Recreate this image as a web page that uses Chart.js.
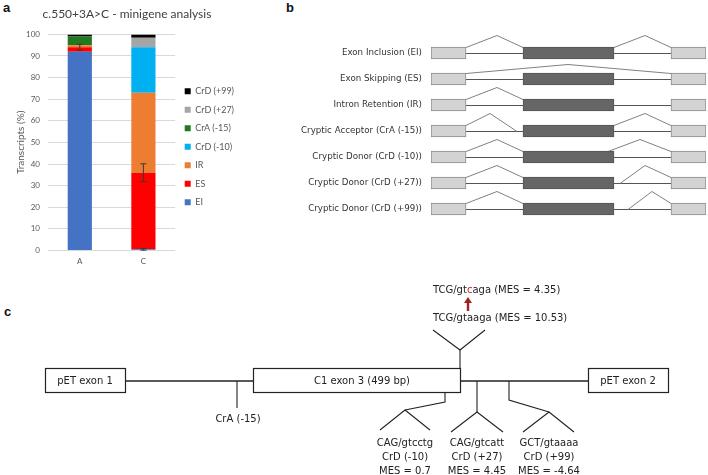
<!DOCTYPE html>
<html lang="en">
<head>
<meta charset="UTF-8">
<title>c.550+3A>C minigene analysis</title>
<script src="https://cdn.jsdelivr.net/npm/chart.js"></script>
<style>
    body {
        margin: 0;
        background: #ffffff;
        width: 708px;
        height: 475px;
        overflow: hidden;
        position: relative;
        font-family: 'DejaVu Sans', sans-serif;
    }
    .panel { position: absolute; }
    .tag {
        position: absolute;
        font-family: 'Liberation Sans', Arial, sans-serif;
        font-weight: bold;
        font-size: 13px;
        color: #111;
    }
    #diagram { position: absolute; left: 0; top: 0; }
</style>
</head>
<body>
    <div class="tag" style="left:3px; top:0px;">a</div>
    <div class="tag" style="left:286px; top:0px;">b</div>
    <div class="tag" style="left:4px; top:304px;">c</div>

    <canvas id="barChart" class="panel" style="left:0; top:0;" width="250" height="275"></canvas>
    <canvas id="isoChart" class="panel" style="left:261px; top:0;" width="447" height="240"></canvas>

    <svg id="diagram" width="708" height="475" font-family="'DejaVu Sans', sans-serif" font-size="10" fill="#222">
        <!-- exons of the minigene -->
        <g stroke="#222" stroke-width="1.2" fill="#fff">
            <rect x="45.5" y="368.5" width="80" height="24"/>
            <rect x="253.5" y="368.5" width="207" height="24"/>
            <rect x="588.5" y="368.5" width="80" height="24"/>
        </g>
        <g stroke="#222" stroke-width="1.6" fill="none">
            <line x1="126" y1="381" x2="253" y2="381"/>
            <line x1="461" y1="381" x2="588" y2="381"/>
        </g>
        <g stroke="#222" stroke-width="1.1" fill="none">
            <!-- CrA (-15) -->
            <line x1="237" y1="381" x2="237" y2="408"/>
            <!-- natural donor -->
            <polyline points="460,368 460,350"/>
            <polyline points="433,330 460,350 485,330"/>
            <!-- CrD (-10) -->
            <polyline points="445,393 445,402 405,410"/>
            <polyline points="380,430 405,410 430,430"/>
            <!-- CrD (+27) -->
            <polyline points="477,381 477,412"/>
            <polyline points="451,432 477,412 503,432"/>
            <!-- CrD (+99) -->
            <polyline points="509,381 509,400 549,412"/>
            <polyline points="523,432 549,412 574,432"/>
        </g>
        <g text-anchor="middle" dominant-baseline="middle">
            <text x="85" y="381">pET exon 1</text>
            <text x="362" y="381">C1 exon 3 (499 bp)</text>
            <text x="628" y="381">pET exon 2</text>
            <text x="238" y="419">CrA (-15)</text>
            <text x="405" y="443">CAG/gtcctg</text>
            <text x="405" y="457">CrD (-10)</text>
            <text x="405" y="471">MES = 0.7</text>
            <text x="477" y="443">CAG/gtcatt</text>
            <text x="477" y="457">CrD (+27)</text>
            <text x="477" y="471">MES = 4.45</text>
            <text x="549" y="443">GCT/gtaaaa</text>
            <text x="549" y="457">CrD (+99)</text>
            <text x="549" y="471">MES = -4.64</text>
        </g>
        <g dominant-baseline="middle" style="white-space:pre">
            <text x="433" y="290">TCG/gt<tspan fill="#d0201c">c</tspan>aga  (MES = 4.35)</text>
            <text x="433" y="318">TCG/gtaaga  (MES = 10.53)</text>
        </g>
        <g fill="#a3201c" stroke="#a3201c">
            <line x1="468" y1="311" x2="468" y2="302" stroke-width="2.4"/>
            <polygon points="464,303 472,303 468,297" stroke="none"/>
        </g>
    </svg>

<script>
    // ---- panel a: minigene transcripts (%) ----
    const samples = ['A', 'C'];
    const seriesNames = ['EI', 'ES', 'IR', 'CrD (-10)', 'CrA (-15)', 'CrD (+27)', 'CrD (+99)'];
    const eiValues = [92, 0.5];
    const esValues = [2, 35.5];
    const irValues = [1, 37];
    const crdMinus10Values = [0, 21];
    const craValues = [4, 0];
    const crdPlus27Values = [0, 4.5];
    const crdPlus99Values = [1, 1.5];
    const eiErrors = [0, 0.4];
    const esErrors = [1.4, 4.1];
    const yTicks = [0, 10, 20, 30, 40, 50, 60, 70, 80, 90, 100];

    // ---- panel b: splicing outcomes ----
    const isoforms = [
        'Exon Inclusion (EI)',
        'Exon Skipping (ES)',
        'Intron Retention (IR)',
        'Cryptic Acceptor (CrA (-15))',
        'Cryptic Donor (CrD (-10))',
        'Cryptic Donor (CrD (+27))',
        'Cryptic Donor (CrD (+99))'
    ];
    // exon spans along the schematic gene axis
    const exonSpans = [[0, 35], [92, 183], [240, 275]];
    // splice junctions per isoform: [donor, apex, acceptor]
    const junctions = [
        [[35, 66, 92], [183, 214, 240]],
        [[35, 137, 240]],
        [[35, 66, 92]],
        [[35, 59, 86], [183, 214, 240]],
        [[35, 66, 92], [177, 209, 240]],
        [[35, 66, 92], [189, 214, 240]],
        [[35, 66, 92], [197, 221, 240]]
    ];

    Chart.defaults.font.family = 'Lato, sans-serif';
    Chart.defaults.animation = false;

    const colors = ['#4472C4', '#FF0000', '#ED7D31', '#00B0F0', '#1E7B1E', '#A5A5A5', '#000000'];
    const values = [eiValues, esValues, irValues, crdMinus10Values, craValues, crdPlus27Values, crdPlus99Values];
    const errs = [eiErrors, esErrors, null, null, null, null, null];

    const errorBars = {
        id: 'errorBars',
        afterDatasetsDraw(chart) {
            const ctx = chart.ctx;
            const y = chart.scales.y;
            chart.data.datasets.forEach((ds, i) => {
                if (!ds.err) return;
                chart.getDatasetMeta(i).data.forEach((bar, j) => {
                    const e = ds.err[j];
                    if (!e) return;
                    const v = y.getValueForPixel(bar.y);
                    const y1 = y.getPixelForValue(v + e);
                    const y2 = y.getPixelForValue(v - e);
                    ctx.save();
                    ctx.strokeStyle = '#3a3a3a';
                    ctx.lineWidth = 1;
                    ctx.beginPath();
                    ctx.moveTo(bar.x, y1); ctx.lineTo(bar.x, y2);
                    ctx.moveTo(bar.x - 3, y1); ctx.lineTo(bar.x + 3, y1);
                    ctx.moveTo(bar.x - 3, y2); ctx.lineTo(bar.x + 3, y2);
                    ctx.stroke();
                    ctx.restore();
                });
            });
        }
    };

    new Chart(document.getElementById('barChart'), {
        type: 'bar',
        data: {
            labels: samples,
            datasets: seriesNames.map((name, i) => ({
                label: name,
                data: values[i],
                err: errs[i],
                backgroundColor: colors[i],
                borderWidth: 0,
                barPercentage: 0.38,
                categoryPercentage: 1
            }))
        },
        options: {
            responsive: false,
            events: [],
            layout: { padding: { left: 10, right: 6, top: 0, bottom: 3 } },
            plugins: {
                title: {
                    display: true,
                    text: 'c.550+3A>C - minigene analysis',
                    color: '#404040',
                    font: { size: 12, weight: 'normal' },
                    padding: { top: 7, bottom: 13 }
                },
                legend: {
                    position: 'right',
                    reverse: true,
                    maxWidth: 75,
                    title: { display: true, text: ' ', font: { size: 8 }, padding: 6 },
                    labels: {
                        boxWidth: 6,
                        boxHeight: 6,
                        padding: 9.5,
                        color: '#595959',
                        font: { size: 9 }
                    }
                },
                tooltip: { enabled: false }
            },
            scales: {
                x: {
                    stacked: true,
                    grid: { display: false, drawTicks: false },
                    border: { display: false },
                    ticks: { color: '#595959', font: { size: 8 }, padding: 6 }
                },
                y: {
                    stacked: true,
                    min: 0,
                    max: 100,
                    afterFit: s => { s.width = 38; },
                    afterBuildTicks: s => { s.ticks = yTicks.map(v => ({ value: v })); },
                    grid: { color: '#D9D9D9', drawTicks: false },
                    border: { display: false },
                    ticks: { color: '#595959', font: { size: 8 }, padding: 8 },
                    title: {
                        display: true,
                        text: 'Transcripts (%)',
                        color: '#595959',
                        font: { size: 10 },
                        padding: { top: 5, bottom: 0 }
                    }
                }
            }
        },
        plugins: [errorBars]
    });

    // introns and splice arcs for panel b
    const inExon = v => exonSpans.some(([a, b]) => v >= a && v <= b);
    const spliceArcs = {
        id: 'spliceArcs',
        beforeDatasetsDraw(chart) {
            const ctx = chart.ctx;
            const x = chart.scales.x;
            const y = chart.scales.y;
            const half = 6;
            isoforms.forEach((name, i) => {
                const yc = Math.round(y.getPixelForValue(i)) + 0.5;
                ctx.save();
                ctx.strokeStyle = '#555555';
                ctx.lineWidth = 1.2;
                ctx.beginPath();
                for (let k = 0; k < exonSpans.length - 1; k++) {
                    ctx.moveTo(x.getPixelForValue(exonSpans[k][1]), yc);
                    ctx.lineTo(x.getPixelForValue(exonSpans[k + 1][0]), yc);
                }
                ctx.stroke();
                ctx.strokeStyle = '#808080';
                ctx.lineWidth = 1;
                junctions[i].forEach(([d, apex, a]) => {
                    const rise = (a - d) > 150 ? 15 : 18;
                    ctx.beginPath();
                    ctx.moveTo(x.getPixelForValue(d), inExon(d) ? yc - half : yc);
                    ctx.lineTo(x.getPixelForValue(apex), yc - rise);
                    ctx.lineTo(x.getPixelForValue(a), inExon(a) ? yc - half : yc);
                    ctx.stroke();
                });
                ctx.restore();
            });
        }
    };

    new Chart(document.getElementById('isoChart'), {
        type: 'bar',
        data: {
            labels: isoforms,
            datasets: exonSpans.map((span, k) => ({
                label: 'exon ' + (k + 1),
                data: isoforms.map(() => span),
                backgroundColor: k === 1 ? '#666666' : '#D3D3D3',
                borderColor: k === 1 ? '#555555' : '#8C8C8C',
                borderWidth: 1,
                borderSkipped: false,
                barThickness: 12,
                grouped: false
            }))
        },
        options: {
            indexAxis: 'y',
            responsive: false,
            events: [],
            layout: { padding: { left: 0, right: 2, top: 40, bottom: 18 } },
            plugins: { legend: { display: false }, tooltip: { enabled: false } },
            scales: {
                x: { type: 'linear', min: 0, max: 275, display: false },
                y: {
                    afterFit: s => { s.width = 170; },
                    grid: { display: false, drawTicks: false },
                    border: { display: false },
                    ticks: {
                        color: '#333333',
                        padding: 9,
                        font: { family: 'DejaVu Sans', size: 8.7 }
                    }
                }
            }
        },
        plugins: [spliceArcs]
    });
</script>
</body>
</html>
